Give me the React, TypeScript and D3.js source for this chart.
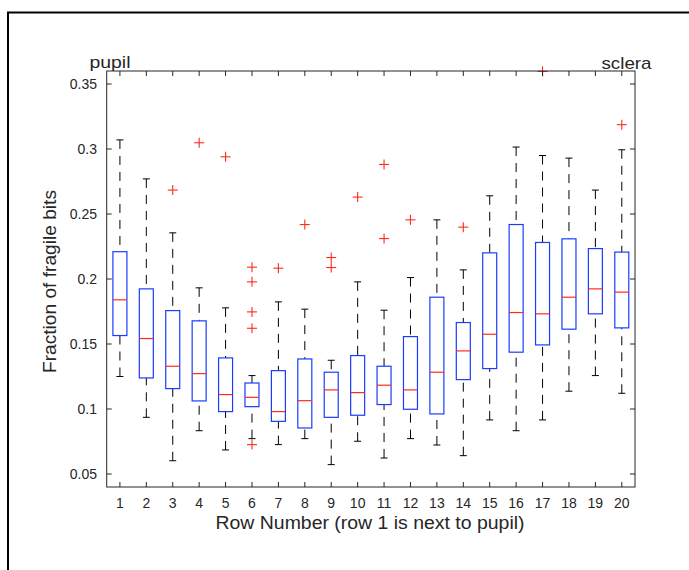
import React from "react";
import * as d3 from "d3";

const rows = [1, 2, 3, 4, 5, 6, 7, 8, 9, 10, 11, 12, 13, 14, 15, 16, 17, 18, 19, 20];
const q3 = [0.221, 0.1924, 0.1757, 0.1678, 0.1393, 0.12, 0.1295, 0.1385, 0.1283, 0.1411, 0.1329, 0.1557, 0.186, 0.1665, 0.2201, 0.2419, 0.2281, 0.2309, 0.2234, 0.2207];
const medians = [0.184, 0.1542, 0.1329, 0.1272, 0.1111, 0.109, 0.098, 0.1064, 0.1147, 0.1126, 0.1183, 0.1147, 0.1283, 0.1447, 0.1575, 0.1742, 0.1732, 0.186, 0.1924, 0.1899];
const q1 = [0.1565, 0.1239, 0.1157, 0.1062, 0.098, 0.1018, 0.0905, 0.0854, 0.0936, 0.0952, 0.1034, 0.0998, 0.0962, 0.1226, 0.1311, 0.1437, 0.1493, 0.1614, 0.1732, 0.1624];
const whiskerHigh = [0.307, 0.277, 0.2355, 0.1932, 0.1778, 0.1257, 0.1824, 0.1768, 0.1375, 0.1978, 0.176, 0.2011, 0.2455, 0.207, 0.264, 0.3015, 0.295, 0.293, 0.2684, 0.2994];
const whiskerLow = [0.125, 0.0936, 0.0602, 0.0833, 0.0685, 0.0772, 0.0726, 0.0772, 0.0572, 0.0752, 0.0623, 0.0772, 0.0723, 0.0641, 0.0916, 0.0833, 0.0916, 0.1137, 0.1257, 0.1121];
const outlierRows = [3, 4, 5, 6, 6, 6, 6, 6, 7, 8, 9, 9, 10, 11, 11, 12, 14, 17, 20];
const outlierValues = [0.2684, 0.3048, 0.294, 0.2091, 0.1978, 0.1747, 0.1621, 0.0726, 0.2083, 0.2419, 0.2165, 0.2088, 0.263, 0.2881, 0.2311, 0.2455, 0.2399, 0.3597, 0.3187];
const yTicks = [0.05, 0.1, 0.15, 0.2, 0.25, 0.3, 0.35];
const yTickLabels = ["0.05", "0.1", "0.15", "0.2", "0.25", "0.3", "0.35"];

const W = 689;
const H = 570;
const plot = { left: 106.7, right: 635, top: 71, bottom: 487 };

export default function App() {
  const x = d3.scaleLinear().domain([0.5, 20.5]).range([plot.left, plot.right]);
  const y = d3.scaleLinear().domain([0.04, 0.36]).range([plot.bottom, plot.top]);
  const boxW = 14;
  const capW = 7;
  const tickLen = 5;
  const axisColor = "#262626";
  const font = "'Liberation Sans', Arial, Helvetica, sans-serif";

  return (
    <svg
      width={W}
      height={H}
      style={{ position: "absolute", left: 0, top: 0, background: "#fff" }}
      fontFamily={font}
    >
      <rect x={0} y={0} width={W} height={H} fill="#fff" />
      <rect x={8} y={12.5} width={W + 20} height={H + 20} fill="none" stroke="#000" strokeWidth={2} />

      {/* whiskers */}
      {rows.map((r, i) => {
        const cx = x(r);
        return (
          <g key={"w" + r}>
            <line x1={cx} x2={cx} y1={y(whiskerHigh[i])} y2={y(q3[i])} stroke="#000" strokeWidth={1} strokeDasharray="9,7" />
            <line x1={cx} x2={cx} y1={y(whiskerLow[i])} y2={y(q1[i])} stroke="#000" strokeWidth={1} strokeDasharray="9,7" />
            <line x1={cx - capW / 2} x2={cx + capW / 2} y1={y(whiskerHigh[i])} y2={y(whiskerHigh[i])} stroke="#000" strokeWidth={1} />
            <line x1={cx - capW / 2} x2={cx + capW / 2} y1={y(whiskerLow[i])} y2={y(whiskerLow[i])} stroke="#000" strokeWidth={1} />
          </g>
        );
      })}

      {/* boxes */}
      {rows.map((r, i) => {
        const cx = x(r);
        return (
          <g key={"b" + r}>
            <rect x={cx - boxW / 2} y={y(q3[i])} width={boxW} height={y(q1[i]) - y(q3[i])} fill="none" stroke="#1a3cff" strokeWidth={1.2} />
            <line x1={cx - boxW / 2} x2={cx + boxW / 2} y1={y(medians[i])} y2={y(medians[i])} stroke="#ff2a1a" strokeWidth={1.2} />
          </g>
        );
      })}

      {/* outliers */}
      {outlierRows.map((r, i) => {
        const cx = x(r);
        const cy = y(outlierValues[i]);
        return (
          <g key={"o" + i} stroke="#ff2a1a" strokeWidth={1.1}>
            <line x1={cx - 5} x2={cx + 5} y1={cy} y2={cy} />
            <line x1={cx} x2={cx} y1={cy - 5} y2={cy + 5} />
          </g>
        );
      })}

      {/* axes box */}
      <rect x={plot.left} y={plot.top} width={plot.right - plot.left} height={plot.bottom - plot.top} fill="none" stroke={axisColor} strokeWidth={1} />

      {/* x ticks */}
      {rows.map((r) => (
        <g key={"xt" + r}>
          <line x1={x(r)} x2={x(r)} y1={plot.bottom} y2={plot.bottom - tickLen} stroke={axisColor} />
          <line x1={x(r)} x2={x(r)} y1={plot.top} y2={plot.top + tickLen} stroke={axisColor} />
          <text x={x(r)} y={507.5} textAnchor="middle" fontSize={14} fill={axisColor}>
            {r}
          </text>
        </g>
      ))}

      {/* y ticks */}
      {yTicks.map((t, i) => (
        <g key={"yt" + t}>
          <line x1={plot.left} x2={plot.left + tickLen} y1={y(t)} y2={y(t)} stroke={axisColor} />
          <line x1={plot.right} x2={plot.right - tickLen} y1={y(t)} y2={y(t)} stroke={axisColor} />
          <text x={97} y={y(t) + 5} textAnchor="end" fontSize={14} fill={axisColor}>
            {yTickLabels[i]}
          </text>
        </g>
      ))}

      <text x={89.5} y={68} fontSize={17} fill={axisColor} textLength={41} lengthAdjust="spacingAndGlyphs">
        pupil
      </text>
      <text x={601.5} y={69} fontSize={17} fill={axisColor} textLength={50} lengthAdjust="spacingAndGlyphs">
        sclera
      </text>

      <text x={370} y={529} textAnchor="middle" fontSize={18} fill={axisColor} textLength={309} lengthAdjust="spacingAndGlyphs">
        Row Number (row 1 is next to pupil)
      </text>
      <text
        transform={`translate(56, 281.5) rotate(-90)`}
        textAnchor="middle"
        fontSize={18}
        fill={axisColor}
        textLength={183}
        lengthAdjust="spacingAndGlyphs"
      >
        Fraction of fragile bits
      </text>
    </svg>
  );
}
